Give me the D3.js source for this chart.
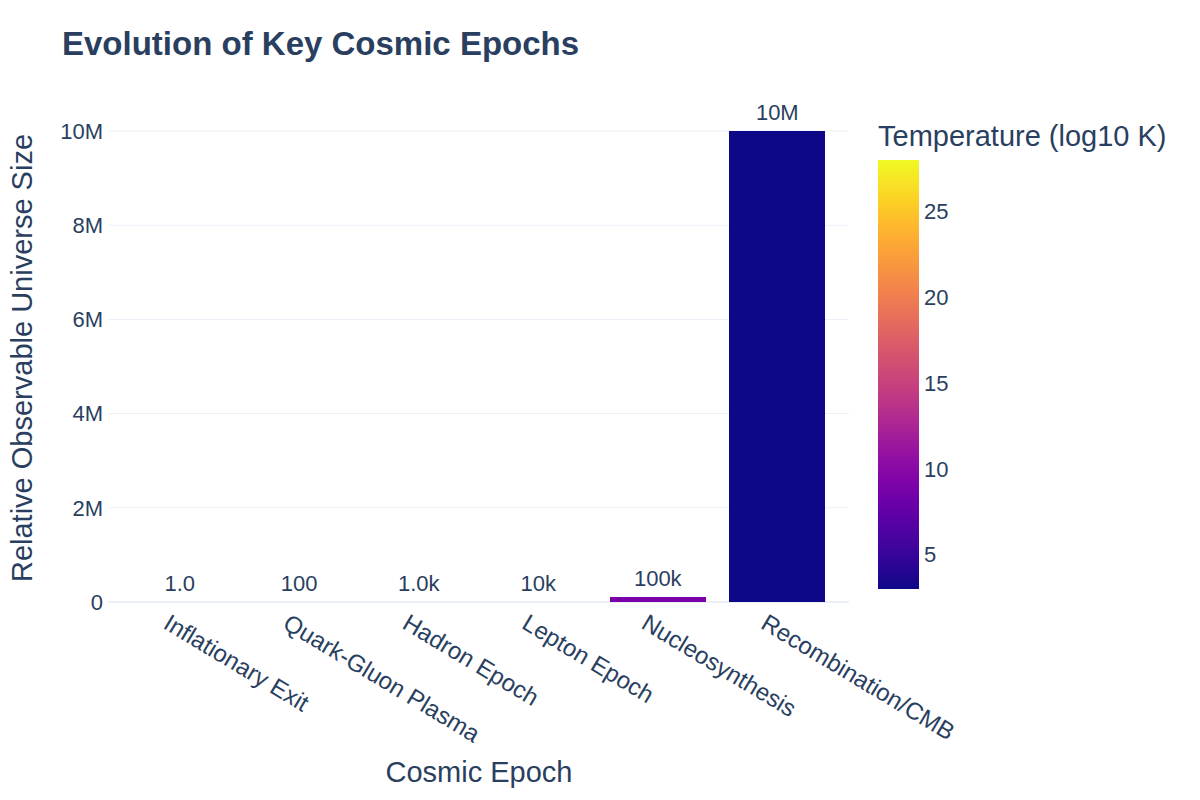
<!DOCTYPE html>
<html>
<head>
<meta charset="utf-8">
<script src="https://cdn.jsdelivr.net/npm/d3@7"></script>
<style>
  body { margin: 0; background: #fff; }
  text { font-family: "Liberation Sans", Arial, sans-serif; fill: #2a3f5f; }
</style>
</head>
<body>
<svg id="chart" width="1200" height="800"></svg>
<script>
const epochs = ["Inflationary Exit", "Quark-Gluon Plasma", "Hadron Epoch", "Lepton Epoch", "Nucleosynthesis", "Recombination/CMB"];
const sizes = [1, 100, 1000, 10000, 100000, 10000000];
const temps = [28, 15, 12, 10, 9, 3];
const yTicks = [0, 2e6, 4e6, 6e6, 8e6, 10e6];
const cbTicks = [5, 10, 15, 20, 25];

const svg = d3.select("#chart"),
    plotLeft = 108, plotRight = 849, plotTop = 104, plotBottom = 602;

const x = d3.scaleBand()
    .domain(epochs)
    .range([plotLeft, plotRight])
    .padding(0.2);

// 10M sits at y=131
const y = d3.scaleLinear()
    .domain([0, 10e6])
    .range([plotBottom, 131]);

const color = d3.scaleSequential(d3.interpolatePlasma)
    .domain([d3.min(temps), d3.max(temps)]);

// title
svg.append("text")
    .attr("x", 62).attr("y", 55)
    .attr("font-size", 33).attr("font-weight", "bold")
    .text("Evolution of Key Cosmic Epochs");

// grid
svg.append("g")
    .selectAll("line")
    .data(yTicks.filter(d => d > 0))
    .enter().append("line")
    .attr("x1", plotLeft).attr("x2", plotRight)
    .attr("y1", d => y(d)).attr("y2", d => y(d))
    .attr("stroke", "#ebf0f8").attr("stroke-width", 1);

svg.append("line")
    .attr("x1", plotLeft).attr("x2", plotRight)
    .attr("y1", y(0)).attr("y2", y(0))
    .attr("stroke", "#ebf0f8").attr("stroke-width", 2);

// y axis labels
svg.append("g")
    .selectAll("text")
    .data(yTicks)
    .enter().append("text")
    .attr("x", 103).attr("y", d => y(d))
    .attr("dy", "0.35em")
    .attr("text-anchor", "end")
    .attr("font-size", 22)
    .text(d => d === 0 ? "0" : d3.format("~s")(d));

// bars
svg.append("g")
    .selectAll("rect")
    .data(epochs)
    .enter().append("rect")
    .attr("shape-rendering", "crispEdges")
    .attr("x", d => x(d))
    .attr("width", x.bandwidth())
    .attr("y", (d, i) => y(sizes[i]))
    .attr("height", (d, i) => y(0) - y(sizes[i]))
    .attr("fill", (d, i) => color(temps[i]));

// value labels
const fmt = v => {
    const s = d3.format(".2s")(v);
    return s.replace(/\.0(?=[kM])/, v >= 1e4 ? "" : ".0");
};
svg.append("g")
    .selectAll("text")
    .data(epochs)
    .enter().append("text")
    .attr("x", d => x(d) + x.bandwidth() / 2)
    .attr("y", (d, i) => y(sizes[i]) - 11)
    .attr("text-anchor", "middle")
    .attr("font-size", 22)
    .text((d, i) => fmt(sizes[i]));

// x tick labels, rotated
svg.append("g")
    .selectAll("text")
    .data(epochs)
    .enter().append("text")
    .attr("transform", d => `translate(${x(d) + x.bandwidth() / 2 - 9},${plotBottom + 11}) rotate(31)`)
    .attr("dy", "0.71em")
    .attr("text-anchor", "start")
    .attr("font-size", 24)
    .text(d => d);

// axis titles
svg.append("text")
    .attr("x", 479).attr("y", 782)
    .attr("text-anchor", "middle")
    .attr("font-size", 29)
    .text("Cosmic Epoch");

svg.append("text")
    .attr("transform", `translate(32,358) rotate(-90)`)
    .attr("text-anchor", "middle")
    .attr("font-size", 29)
    .text("Relative Observable Universe Size");

// colorbar
const cbX = 878, cbW = 41, cbTop = 160, cbBottom = 589;
const cy = d3.scaleLinear().domain(color.domain()).range([cbBottom, cbTop]);

const grad = svg.append("defs").append("linearGradient")
    .attr("id", "plasma")
    .attr("x1", 0).attr("y1", 1).attr("x2", 0).attr("y2", 0);
d3.range(0, 1.001, 0.05).forEach(t => {
    grad.append("stop")
        .attr("offset", t)
        .attr("stop-color", d3.interpolatePlasma(t));
});

svg.append("rect")
    .attr("x", cbX).attr("y", cbTop)
    .attr("width", cbW).attr("height", cbBottom - cbTop)
    .attr("fill", "url(#plasma)");

svg.append("g")
    .selectAll("text")
    .data(cbTicks)
    .enter().append("text")
    .attr("x", cbX + cbW + 5).attr("y", d => cy(d))
    .attr("dy", "0.35em")
    .attr("font-size", 22)
    .text(d => d);

svg.append("text")
    .attr("x", cbX).attr("y", 146)
    .attr("font-size", 29)
    .text("Temperature (log10 K)");
</script>
</body>
</html>
